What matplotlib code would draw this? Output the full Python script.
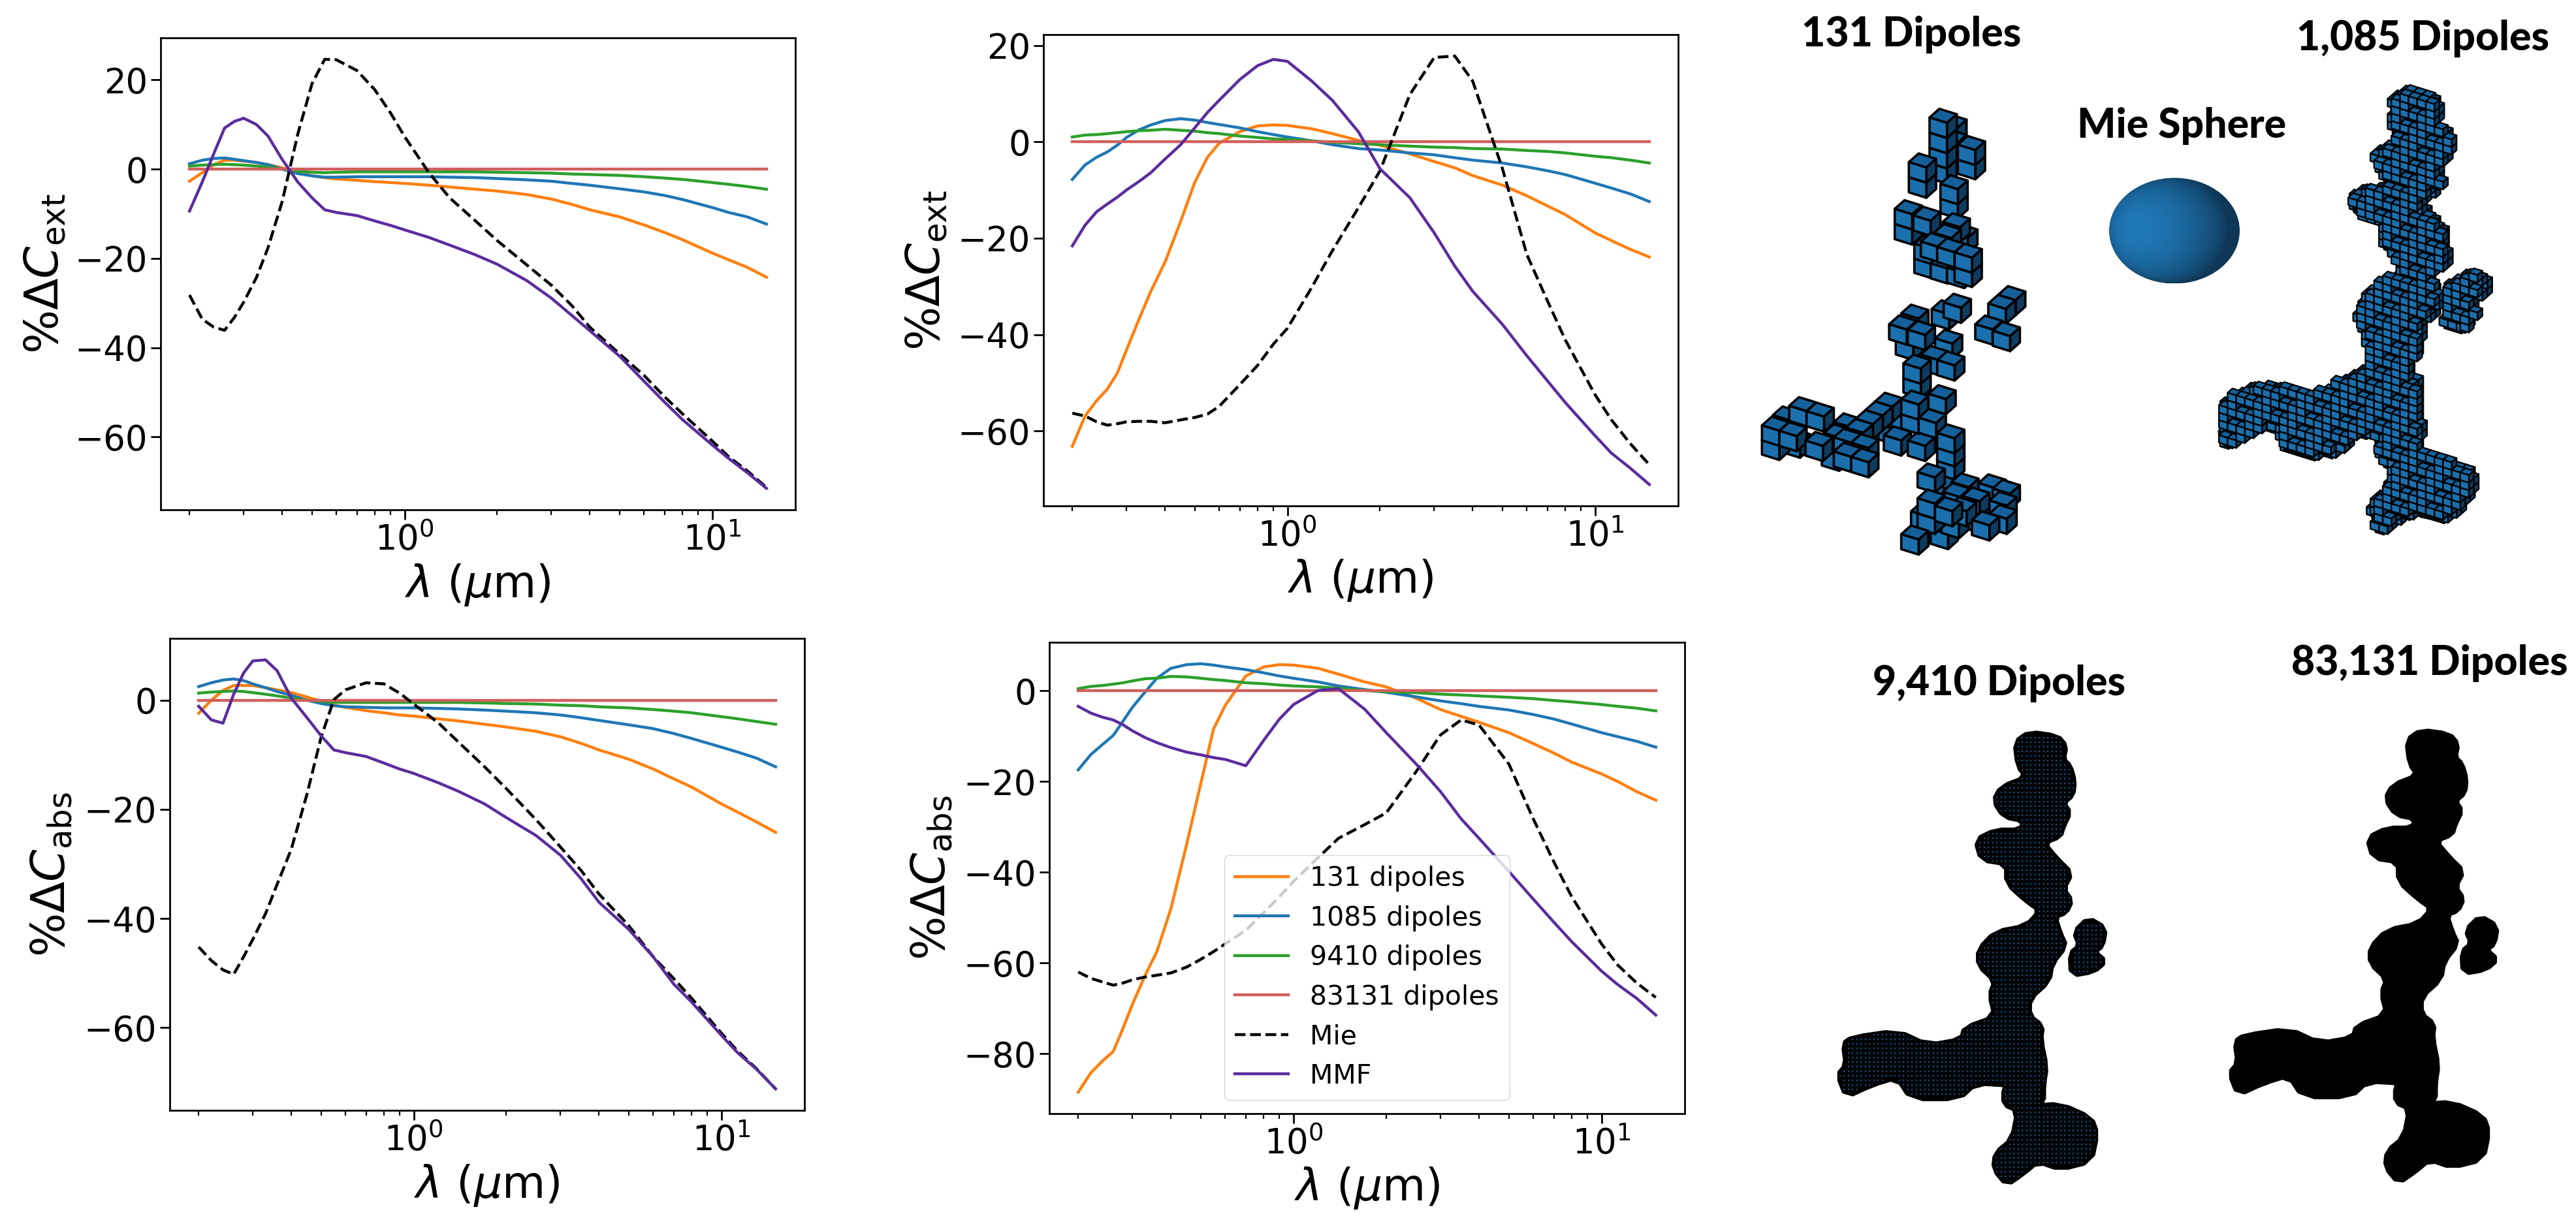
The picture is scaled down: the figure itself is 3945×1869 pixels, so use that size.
import numpy as np
import matplotlib
matplotlib.use('Agg')
import matplotlib.pyplot as plt
from matplotlib.collections import PolyCollection
from matplotlib.path import Path
from matplotlib.patches import Ellipse, Polygon

W, H = 3945, 1869
lam = [0.2,0.22,0.24,0.26,0.28,0.3,0.33,0.36,0.4,0.45,0.5,0.55,0.6,0.7,0.8,0.9,1.0,1.2,1.4,1.7,2.0,2.5,3.0,3.5,4.0,5.0,6.0,7.0,8.0,10.0,11.3,13.0,15.0]
zero = [0.0]*33

ext1_131 = [-2.7,-0.8,1,2,2,1.8,1.5,1,0.3,-0.8,-1.5,-1.9,-2.2,-2.5,-2.8,-3,-3.2,-3.6,-4,-4.5,-4.9,-5.7,-6.7,-7.9,-9.1,-10.7,-12.5,-14.2,-15.8,-18.8,-20.3,-22,-24.2]
ext1_1085 = [1.2,2,2.4,2.5,2.2,1.9,1.5,1,0,-1,-1.5,-1.8,-1.8,-1.7,-1.7,-1.7,-1.7,-1.7,-1.8,-1.9,-2.1,-2.4,-2.7,-3.2,-3.6,-4.4,-5.1,-5.9,-6.8,-8.6,-9.7,-10.7,-12.3]
ext1_9410 = [0.7,0.9,1,1.1,1,0.9,0.7,0.4,0,-0.5,-0.7,-0.8,-0.7,-0.6,-0.6,-0.6,-0.6,-0.6,-0.6,-0.6,-0.7,-0.8,-0.9,-1.1,-1.2,-1.4,-1.7,-2,-2.3,-3,-3.4,-3.9,-4.5]
ext1_mie = [-28.2,-33.6,-35.4,-36.1,-33.2,-29.8,-24.3,-17.6,-7.3,7.9,19.1,24.6,24.5,22.1,17.8,12.6,7.3,-0.8,-6.4,-11.6,-16,-21.5,-26,-30.6,-35.4,-41.4,-46.2,-51,-54.8,-60.9,-64.4,-67.6,-71.3]
ext1_mmf = [-9.4,-2.9,3.5,9.2,10.7,11.4,10,7.4,2.2,-2.9,-6.4,-9.1,-9.7,-10.4,-11.6,-12.6,-13.6,-15.3,-17,-19.2,-21.3,-25,-28.9,-32.8,-36.2,-41.9,-47.5,-52.2,-56.1,-61.8,-64.8,-68,-71.5]

ext2_131 = [-63.2,-56.9,-53.7,-51.3,-48,-43.2,-36.7,-31,-25,-16.5,-8.4,-3.2,-0.3,2.1,3.3,3.5,3.4,2.7,1.7,0.3,-0.7,-2.5,-4.1,-5.4,-7,-9,-11.2,-13.3,-15.1,-18.9,-20.5,-22.3,-23.9]
ext2_1085 = [-7.8,-4.8,-3.2,-2.1,-0.7,0.9,2.5,3.5,4.4,4.8,4.5,4,3.6,2.9,2.1,1.5,1,0.2,-0.6,-1.4,-1.7,-2.3,-2.7,-3.3,-3.8,-4.4,-5.2,-6,-6.8,-8.6,-9.6,-10.8,-12.4]
ext2_9410 = [1,1.4,1.5,1.7,1.9,2.1,2.3,2.4,2.6,2.4,2.2,1.9,1.7,1.2,0.9,0.6,0.5,0.2,-0.1,-0.4,-0.6,-0.9,-1.1,-1.2,-1.4,-1.5,-1.8,-2,-2.3,-3,-3.3,-3.8,-4.4]
ext2_mie = [-56.3,-56.9,-58.1,-58.8,-58.5,-58.1,-58,-58,-58.3,-57.7,-57.2,-56.5,-54.9,-50.4,-46.4,-42,-38.7,-30.2,-22.6,-13.7,-6,9.8,17.5,17.8,12.6,-5.6,-23.4,-33,-41.1,-52.5,-57.7,-62.6,-67]
ext2_mmf = [-21.6,-17.3,-14.5,-12.9,-11.5,-10,-8.2,-6.4,-3.6,-0.6,2.9,6.1,8.6,12.9,15.8,17.1,16.7,12.6,8.6,2.1,-5.6,-11.6,-18.9,-25.8,-31,-37.9,-44.4,-49.6,-54.1,-61,-64.6,-67.7,-71.1]

abs1_131 = [-2.4,0,1.8,2.7,2.7,2.7,2.3,1.9,1.4,0.6,-0.2,-0.9,-1.3,-1.9,-2.3,-2.7,-2.9,-3.4,-3.8,-4.4,-4.9,-5.7,-6.7,-7.9,-9.1,-10.8,-12.6,-14.4,-15.9,-19,-20.5,-22.3,-24.2]
abs1_1085 = [2.5,3.2,3.7,3.9,3.6,3,2.3,1.6,0.9,0,-0.6,-1,-1.2,-1.3,-1.4,-1.4,-1.4,-1.5,-1.6,-1.8,-2,-2.3,-2.7,-3.2,-3.7,-4.5,-5.2,-6.1,-7,-8.6,-9.5,-10.6,-12.2]
abs1_9410 = [1.3,1.5,1.6,1.7,1.6,1.4,1.1,0.8,0.4,0,-0.2,-0.4,-0.4,-0.4,-0.4,-0.4,-0.4,-0.4,-0.4,-0.5,-0.6,-0.7,-0.9,-1,-1.2,-1.4,-1.7,-2,-2.3,-3,-3.4,-3.9,-4.4]
abs1_mie = [-45.2,-47.7,-49.4,-50.2,-47,-43.8,-39.1,-33.7,-27.3,-17.2,-6.8,0.1,1.9,3.2,3,1.3,-0.7,-4.1,-7.7,-12.2,-16.2,-21.9,-26.9,-31.2,-35.5,-41.3,-47,-51,-54.6,-61,-64.3,-67.5,-71.2]
abs1_mmf = [-1.1,-3.6,-4.2,1.1,5,7.2,7.4,5.4,0.4,-3.2,-6.5,-9.1,-9.6,-10.3,-11.5,-12.6,-13.4,-15.1,-16.7,-19,-21.5,-24.8,-28.4,-32.7,-37,-42,-47,-52,-55.3,-61.4,-64.6,-67.6,-71.2]

abs2_131 = [-88.5,-84.2,-81.6,-79.5,-74.3,-69.1,-62.7,-57.5,-48,-33.8,-20.4,-8.4,-3.2,3.3,5.3,5.8,5.7,5,3.7,2,0.9,-1.6,-4.1,-5.6,-6.9,-9.2,-11.6,-13.7,-15.7,-18.3,-20,-22.2,-24.1]
abs2_1085 = [-17.4,-14,-11.8,-9.8,-6.6,-3.6,-0.2,2.8,5,5.8,6,5.7,5.3,4.7,4,3.3,2.8,2,1.1,0.3,-0.3,-1.3,-2.2,-2.8,-3.4,-4.2,-5.2,-6.2,-7.3,-9.2,-10.1,-11.1,-12.4]
abs2_9410 = [0.5,1,1.2,1.5,1.8,2.2,2.7,2.8,3.2,3.1,2.8,2.5,2.3,1.8,1.6,1.3,1.1,0.9,0.6,0.1,-0.2,-0.4,-0.7,-0.9,-1.1,-1.4,-1.7,-2.1,-2.4,-3,-3.4,-3.8,-4.4]
abs2_mie = [-62,-63.4,-64.2,-64.9,-64.4,-63.7,-63.1,-62.7,-62.2,-60.9,-59.2,-57.5,-55.8,-52.8,-48.9,-45.4,-42,-36.8,-32.5,-29.5,-26.9,-17.8,-9.7,-6.4,-7.5,-16.1,-28.2,-37.7,-45.4,-55.8,-60.5,-64.4,-67.6]
abs2_mmf = [-3.4,-4.9,-5.8,-6.4,-7.5,-8.8,-10.3,-11.4,-12.5,-13.5,-14.1,-14.7,-15.1,-16.5,-10.9,-6.2,-3,0.1,0.5,-4,-9.2,-16.1,-22.2,-28.2,-32.5,-39.8,-45.9,-51,-55.3,-61.8,-64.8,-67.8,-71.5]

series_labels = ['131 dipoles','1085 dipoles','9410 dipoles','83131 dipoles','Mie','MMF']
series_colors = ['#ff7f0e','#1f77b4','#2ca02c','#d1605e','black','#5b2c9e']
series_styles = ['-','-','-','-','--','-']

panels = [
    ((246,58,1218,781), r'$\%\Delta C_{\mathrm{ext}}$', [ext1_131,ext1_1085,ext1_9410,zero,ext1_mie,ext1_mmf], [20,0,-20,-40,-60]),
    ((1598,53,2570,775), r'$\%\Delta C_{\mathrm{ext}}$', [ext2_131,ext2_1085,ext2_9410,zero,ext2_mie,ext2_mmf], [20,0,-20,-40,-60]),
    ((260,978,1232,1701), r'$\%\Delta C_{\mathrm{abs}}$', [abs1_131,abs1_1085,abs1_9410,zero,abs1_mie,abs1_mmf], [0,-20,-40,-60]),
    ((1607,984,2580,1706), r'$\%\Delta C_{\mathrm{abs}}$', [abs2_131,abs2_1085,abs2_9410,zero,abs2_mie,abs2_mmf], [0,-20,-40,-60,-80]),
]
ylabel_px = [104, 1454, 114, 1462]

# ---- reference outlines of the aggregate (traced)
agg83k_x = [1285,1335,1350,1345,1357,1365,1362,1345,1357,1345,1340,1310,1335,1360,1345,1360,1350,1330,1340,1350,1325,1320,1285,1285,1308,1305,1315,1310,1310,1290,1340,1395,1405,1395,1340,1300,1275,1245,1222,1225,1255,1265,1240,1240,1250,1190,1160,1075,1050,1005,960,945,960,955,970,1050,1105,1165,1170,1225,1215,1225,1195,1195,1225,1280,1305,1280,1245,1245,1200,1190,1225,1270,1275,1240,1222,1235,1280,1265,1260]
agg83k_y = [315,325,350,385,400,440,475,495,520,555,580,597,640,675,715,745,775,785,830,860,905,950,995,1040,1065,1100,1170,1215,1260,1270,1265,1300,1340,1410,1430,1410,1440,1470,1430,1390,1355,1280,1265,1225,1215,1210,1250,1250,1195,1215,1245,1190,1165,1110,1095,1078,1115,1100,1070,1042,985,950,910,870,825,810,770,745,700,650,640,590,565,565,540,530,490,455,430,400,340]
blob83k_x = [1390,1420,1415,1400,1420,1400,1360,1358,1375,1365]
blob83k_y = [790,815,860,875,900,925,935,880,860,825]
agg1k_x = [1230,1255,1300,1318,1310,1332,1332,1310,1322,1305,1278,1285,1325,1325,1328,1295,1310,1318,1285,1280,1255,1278,1270,1285,1270,1350,1380,1365,1330,1290,1265,1205,1190,1225,1230,1205,1215,1165,1140,1075,1040,1020,975,940,920,935,930,1015,1085,1130,1190,1190,1165,1200,1260,1215,1210,1165,1160,1190,1240,1195,1210,1240,1230]
agg1k_y = [260,240,250,285,330,340,400,430,465,500,520,545,600,650,690,710,750,790,830,900,960,990,1020,1100,1170,1200,1225,1290,1340,1340,1320,1385,1300,1265,1210,1170,1130,1120,1170,1180,1160,1095,1130,1160,1120,1085,1030,995,1030,990,965,890,800,740,700,640,570,560,510,490,490,420,385,365,310]
blob1k_x = [1365,1398,1395,1372,1385,1350,1322,1325,1332]
blob1k_y = [705,725,760,785,825,855,840,800,735]

# ---- voxels of the 131-dipole aggregate, back to front (crop coordinates)
vox_a_x = [870,870,825,825,825,825,955,955,730,730,875,875,920,885,755,755,830,905,665,665,750,845,785,860,940,940,835,890,1140,1095,695,640]
vox_a_y = [115,185,300,230,160,90,280,215,365,295,460,395,620,570,735,670,760,780,580,510,540,620,660,685,775,710,970,940,905,945,990,1040]
vox_b_x = [590,650,330,150,850,960,830,880,1060,670,640,725,850,1035,1115,785,860,705,705,105,180,55,55,135,260,385,340,575,530,485,440,255,385,465,385,465,615,725,695,695,820,775,860,860,860,770,1050,1115,1100,1100,925,885,975,915,740,770,770,850,1020,695]
vox_b_y = [450,390,570,510,730,850,930,880,800,60,-10,15,55,-10,20,130,155,235,170,408,365,520,455,480,390,440,490,345,385,425,465,525,510,535,575,600,500,525,400,335,310,420,610,550,490,670,720,745,800,860,715,760,780,825,850,860,790,825,890,955]


def px_from_zoom6(xs, ys):
    return 2600 + np.array(xs)/1.16, 930 + np.array(ys)/1.667

def px_from_zoom5(xs, ys):
    return 2600 + np.array(xs)/1.16, np.array(ys)/1.683

def rounded(xs, ys, n=1):
    p = np.c_[xs, ys]
    for _ in range(n):
        q = np.roll(p, -1, axis=0)
        p = np.c_[0.75*p + 0.25*q, 0.25*p + 0.75*q].reshape(-1, 2)
    return p

fig = plt.figure(figsize=(W/100, H/100), dpi=100, facecolor='white')

for i, (box, yl, data, yt) in enumerate(panels):
    x0, y0, x1, y1 = box
    ax = fig.add_axes([x0/W, 1-y1/H, (x1-x0)/W, (y1-y0)/H])
    for vals, lab, c, ls in zip(data, series_labels, series_colors, series_styles):
        ax.plot(lam, vals, color=c, ls=ls, lw=3.2, label=lab)
    ax.set_xscale('log')
    ax.set_yticks(yt)
    ax.tick_params(axis='both', which='major', labelsize=38, length=11, width=2)
    ax.tick_params(axis='x', which='minor', length=6, width=1.6)
    for s in ax.spines.values():
        s.set_linewidth(2)
    ax.set_xlabel(r'$\lambda$ ($\mu$m)', fontsize=49)
    ax.set_ylabel(yl, fontsize=51)
    ax.yaxis.set_label_coords((ylabel_px[i]-x0)/(x1-x0), 0.5)
    ax.xaxis.set_label_coords(0.5, -0.11)
    if i == 3:
        ax.legend(loc='lower left', bbox_to_anchor=(0.2754, 0.029), borderaxespad=0,
                  fontsize=29.5)

ov = fig.add_axes([0, 0, 1, 1], zorder=-1)
ov.set_xlim(0, W); ov.set_ylim(H, 0); ov.axis('off')

FRONT, TOP, RIGHT = '#1a6fac', '#15609a', '#0d3c60'

def draw_cubes(ax, xs, ys, a, b, c, lw, z=2):
    polys, faces = [], []
    for x, y in zip(xs, ys):
        p = np.array([x, y], float)
        polys.append([p+b, p+a+b, p+a, p]); faces.append(TOP)
        polys.append([p+a, p+a+b, p+a+b+c, p+a+c]); faces.append(RIGHT)
        polys.append([p, p+a, p+a+c, p+c]); faces.append(FRONT)
    ax.add_collection(PolyCollection(polys, facecolors=faces, edgecolors='black', linewidths=lw, zorder=z))

# 131 dipoles
xa = 2680 + np.array(vox_a_x)/3; ya = 150 + np.array(vox_a_y)/3
xb = 2680 + np.array(vox_b_x)/3; yb = 500 + np.array(vox_b_y)/3
draw_cubes(ov, np.r_[xa, xb], np.r_[ya, yb], np.array([26.7, 8.3]), np.array([15, -13.3]), np.array([0, 23]), 2.6)

# sphere
cx, cy, rx, ry = 3330, 353.5, 100, 81
yy, xx = np.mgrid[-1:1:300j, -1:1:300j]
rr2 = np.clip(1 - xx**2 - yy**2, 0, 1)
light = np.clip(-0.55*xx - 0.05*yy + 0.83*np.sqrt(rr2), 0, 1)
dark, bright = np.array([0x0f, 0x38, 0x58])/255, np.array([0x1f, 0x78, 0xb6])/255
rgb = dark + (bright-dark)*light[..., None]
im = ov.imshow(rgb, extent=(cx-rx, cx+rx, cy+ry, cy-ry), aspect='auto', zorder=2)
im.set_clip_path(Ellipse((cx, cy), 2*rx, 2*ry, transform=ov.transData))
ov.set_xlim(0, W); ov.set_ylim(H, 0)

# 1,085 dipoles
a1, b1, c1 = np.array([13.2, 4.1]), np.array([7.5, -6.6]), np.array([0, 11.5])
outlines = [rounded(*px_from_zoom5(agg1k_x, agg1k_y)), rounded(*px_from_zoom5(blob1k_x, blob1k_y))]
paths = [Path(o) for o in outlines]
cubes_x, cubes_y = [], []
for k in (2, 1, 0):
    for m in range(0, 36):
        for j in range(75, -1, -1):
            if k == 0 and (m*3 + j*5) % 7 in (0, 3):
                continue
            if k == 1 and (m*5 + j*2) % 5 == 0:
                continue
            p = np.array([3385.0, 30.0]) + m*a1 + j*c1 + k*b1
            t = p + 0.5*a1 + 0.5*c1
            if any(pth.contains_point(t) for pth in paths):
                cubes_x.append(p[0]); cubes_y.append(p[1])
for o in outlines:
    ov.add_patch(Polygon(o, closed=True, fc='#06121c', ec='none', zorder=1.5))
draw_cubes(ov, cubes_x, cubes_y, a1, b1, c1, 1.7, z=1.8)

# 9,410 and 83,131 dipoles
big = rounded(*px_from_zoom6(agg83k_x, agg83k_y))
small = rounded(*px_from_zoom6(blob83k_x, blob83k_y))
for o in (big, small):
    ov.add_patch(Polygon(o, closed=True, fc='black', ec='black', lw=6, joinstyle='round'))
    pts = o + np.array([-600, 3])
    ov.add_patch(Polygon(pts, closed=True, fc='#030608', ec='black', lw=6, joinstyle='round'))
    gx, gy = np.meshgrid(np.arange(pts[:,0].min(), pts[:,0].max(), 6.5), np.arange(pts[:,1].min(), pts[:,1].max(), 7.0))
    g = np.c_[gx.ravel(), gy.ravel()]
    g = g[Path(pts).contains_points(g)]
    ov.scatter(g[:,0], g[:,1], s=4, marker='s', color='#17598c', linewidths=0, zorder=2)

title_font = dict(family='Lato', weight=900, fontsize=45, ha='center', va='center', color='black')
ov.text(2927, 53, '131 Dipoles', **title_font)
ov.text(3711, 59, '1,085 Dipoles', **title_font)
ov.text(3341, 193, 'Mie Sphere', **title_font)
ov.text(3062, 1047, '9,410 Dipoles', **title_font)
ov.text(3721, 1016, '83,131 Dipoles', **title_font)

fig.savefig('out.png', dpi=100)
